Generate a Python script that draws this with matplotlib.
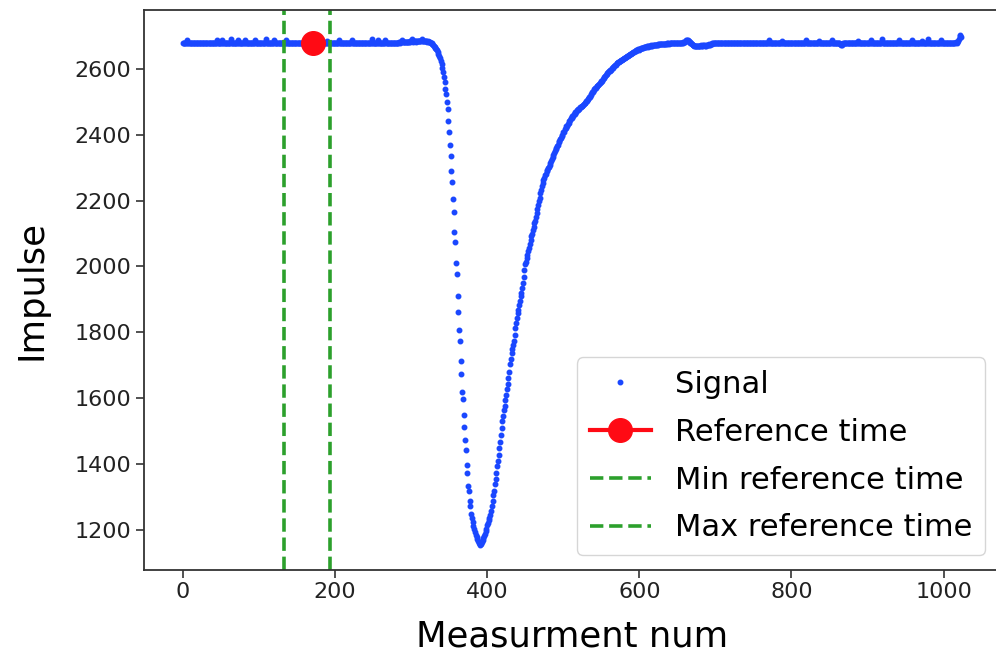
import numpy as np
import matplotlib
matplotlib.use("Agg")
import matplotlib.pyplot as plt

flat_start = [
    2677, 2678, 2677, 2679, 2678, 2688, 2678, 2677, 2679, 2678, 2678, 2677, 2679, 2678, 2677, 2678, 2679, 2678, 2677, 2678, 2679, 2677, 2678, 2678, 2679,
    2678, 2677, 2678, 2679, 2678, 2677, 2678, 2679, 2678, 2678, 2677, 2679, 2678, 2677, 2678, 2679, 2678, 2677, 2678, 2679, 2686, 2678, 2677, 2679, 2678,
    2677, 2687, 2678, 2679, 2678, 2677, 2678, 2679, 2678, 2677, 2678, 2679, 2678, 2689, 2678, 2677, 2679, 2678, 2678, 2677, 2679, 2678, 2677, 2688, 2678,
    2679, 2678, 2677, 2678, 2679, 2678, 2677, 2687, 2678, 2679, 2678, 2677, 2678, 2679, 2678, 2677, 2678, 2679, 2678, 2677, 2688, 2678, 2679, 2678, 2677,
    2678, 2679, 2678, 2677, 2678, 2679, 2678, 2677, 2678, 2689, 2678, 2677, 2679, 2678, 2678, 2677, 2679, 2678, 2677, 2678, 2687, 2678, 2679, 2677, 2678,
    2679, 2678, 2677, 2678, 2679, 2678, 2677, 2678, 2679, 2678, 2688, 2678, 2677, 2679, 2678, 2678, 2677, 2679, 2678, 2677, 2678, 2679, 2678, 2677, 2678,
    2679, 2678, 2677, 2678, 2679, 2678, 2677, 2678, 2679, 2678, 2683, 2678, 2677, 2679, 2678, 2678, 2677, 2679, 2678, 2677, 2678, 2679, 2678, 2677, 2678,
    2678, 2679, 2678, 2677, 2678, 2679, 2678, 2677, 2678, 2679, 2678, 2677, 2678, 2679, 2678, 2684, 2678, 2677, 2679, 2678, 2678, 2677, 2679, 2678, 2677,
    2678, 2679, 2678, 2677, 2678, 2687, 2678, 2677, 2679, 2678, 2678, 2677, 2679, 2678, 2677, 2678, 2679, 2678, 2677, 2678, 2679, 2678, 2688, 2678, 2677,
    2679, 2678, 2677, 2678, 2679, 2678, 2677, 2678, 2679, 2678, 2677, 2678, 2679, 2678, 2677, 2678, 2679, 2678, 2677, 2678, 2679, 2678, 2677, 2678, 2689,
    2678, 2677, 2679, 2678, 2678, 2677, 2679, 2688, 2678, 2677, 2678, 2679, 2678, 2677, 2678, 2679, 2687, 2678, 2677, 2679, 2678, 2678, 2677, 2679, 2678,
    2677, 2678, 2679, 2678, 2677, 2678, 2679, 2678, 2679, 2680, 2679, 2680, 2681, 2688, 2680, 2681, 2680, 2682, 2681, 2680, 2682, 2681, 2682, 2683, 2681,
]
bump = [
    2683, 2689, 2682, 2684, 2683, 2685, 2682, 2684, 2683, 2685, 2684, 2683, 2685, 2684, 2690, 2684, 2683, 2685, 2684, 2683, 2684, 2682, 2683, 2681, 2680,
]
drop = [
    2680, 2679, 2678, 2676, 2673, 2670, 2667, 2664, 2661, 2657,
    2652, 2646, 2640, 2632, 2624, 2614, 2603, 2590, 2576, 2560,
    2540, 2522, 2500, 2478, 2440, 2408, 2370, 2336, 2290, 2256,
    2205, 2165, 2104, 2074, 2010, 1977, 1911, 1862, 1808, 1774,
    1714, 1675, 1620, 1599, 1548, 1514, 1472, 1442, 1396, 1372,
    1333, 1318, 1287, 1272, 1250, 1238, 1225, 1212, 1202, 1193,
    1186, 1179, 1172, 1167, 1162, 1158, 1156, 1159,
]
rise = [
    1164, 1169, 1176, 1181, 1189, 1196, 1204, 1214, 1221, 1231,
    1238, 1247, 1258, 1273, 1289, 1306, 1320, 1339, 1355, 1373,
    1393, 1411, 1429, 1449, 1467, 1489, 1509, 1531, 1547, 1563,
    1577, 1596, 1611, 1629, 1644, 1661, 1679, 1703, 1719, 1736,
    1749, 1763, 1774, 1793, 1814, 1829, 1844, 1859, 1869, 1883,
    1894, 1909, 1919, 1935, 1949, 1969, 1989, 2006, 2014, 2027,
    2035, 2047, 2057, 2069, 2079, 2091, 2099, 2111, 2119, 2131,
    2139, 2151, 2161, 2175, 2185, 2199, 2209, 2223, 2231, 2245,
    2253, 2263, 2269, 2277, 2281, 2289, 2292, 2299, 2302, 2309,
    2313, 2321, 2325, 2333, 2337, 2345, 2349, 2357, 2360, 2367,
    2370, 2377, 2380, 2387, 2390, 2397, 2400, 2407, 2409, 2416,
    2419, 2425, 2427, 2433, 2435, 2441, 2443, 2449, 2450, 2456,
    2457, 2463, 2464, 2469, 2469, 2474, 2475, 2479, 2479, 2483,
    2483, 2487, 2487, 2491, 2492, 2497, 2497, 2501, 2502, 2507,
    2508, 2513, 2514, 2520, 2522, 2528, 2530, 2536, 2537, 2542,
    2543, 2547, 2547, 2552, 2553, 2558, 2559, 2563, 2564, 2569,
    2571, 2576, 2577, 2582, 2583, 2588, 2589, 2593, 2593, 2597,
    2597, 2601, 2601, 2606, 2607, 2611, 2612, 2616, 2616, 2620,
    2620, 2624, 2623, 2627, 2627, 2630, 2630, 2633, 2633, 2636,
    2636, 2639, 2639, 2642, 2642, 2645, 2645, 2649, 2648, 2651,
    2651, 2654, 2654, 2657, 2656, 2659, 2658, 2661, 2660, 2663,
    2662, 2664, 2663, 2666, 2665, 2667, 2666, 2668, 2667, 2669,
    2668, 2670, 2669, 2671, 2670, 2672, 2671, 2672, 2672, 2673,
    2672, 2674, 2673, 2674, 2674, 2675, 2674, 2676, 2675, 2676,
    2675, 2676, 2676, 2677, 2676, 2677, 2676, 2678, 2677, 2677,
    2678, 2677, 2678, 2678, 2677, 2678, 2679, 2678,
]
flat_end = [
    2678, 2677, 2678, 2679, 2678, 2679, 2680, 2679, 2681, 2682, 2684, 2686, 2687, 2686, 2684, 2681, 2679, 2677, 2675, 2673, 2671, 2670, 2669, 2668, 2669,
    2668, 2670, 2669, 2668, 2670, 2671, 2669, 2670, 2672, 2671, 2670, 2669, 2671, 2672, 2673, 2672, 2674, 2673, 2675, 2676, 2677, 2678, 2679, 2678, 2679,
    2678, 2679, 2677, 2678, 2679, 2678, 2677, 2678, 2679, 2678, 2677, 2679, 2678, 2678, 2677, 2679, 2678, 2677, 2678, 2679, 2678, 2677, 2679, 2678, 2678,
    2677, 2679, 2678, 2677, 2678, 2679, 2678, 2677, 2678, 2679, 2678, 2677, 2679, 2678, 2678, 2677, 2679, 2678, 2677, 2678, 2679, 2678, 2677, 2679, 2678,
    2679, 2678, 2677, 2678, 2679, 2678, 2678, 2677, 2679, 2678, 2677, 2678, 2679, 2678, 2677, 2679, 2678, 2678, 2677, 2687, 2678, 2679, 2677, 2678, 2679,
    2678, 2677, 2679, 2678, 2678, 2677, 2679, 2678, 2677, 2678, 2679, 2678, 2683, 2678, 2677, 2679, 2678, 2678, 2677, 2679, 2678, 2677, 2678, 2679, 2678,
    2677, 2678, 2679, 2678, 2677, 2679, 2678, 2678, 2677, 2679, 2678, 2677, 2678, 2679, 2678, 2677, 2678, 2679, 2688, 2678, 2677, 2679, 2678, 2678, 2677,
    2679, 2678, 2677, 2678, 2679, 2678, 2677, 2679, 2678, 2678, 2684, 2678, 2679, 2677, 2678, 2679, 2678, 2677, 2678, 2679, 2678, 2677, 2679, 2678, 2678,
    2677, 2679, 2688, 2678, 2677, 2678, 2679, 2678, 2677, 2679, 2678, 2678, 2677, 2676, 2673, 2671, 2674, 2677, 2679, 2678, 2677, 2678, 2679, 2678, 2677,
    2678, 2679, 2678, 2677, 2679, 2678, 2678, 2677, 2679, 2678, 2677, 2678, 2685, 2678, 2677, 2679, 2678, 2678, 2677, 2679, 2678, 2677, 2678, 2679, 2678,
    2677, 2678, 2679, 2678, 2688, 2677, 2679, 2678, 2678, 2677, 2679, 2678, 2677, 2678, 2679, 2678, 2677, 2678, 2689, 2678, 2677, 2679, 2678, 2678, 2677,
    2679, 2678, 2677, 2678, 2679, 2678, 2677, 2679, 2678, 2678, 2677, 2679, 2678, 2677, 2678, 2688, 2678, 2679, 2677, 2678, 2679, 2678, 2677, 2678, 2679,
    2678, 2677, 2679, 2678, 2678, 2677, 2679, 2687, 2678, 2677, 2678, 2679, 2678, 2677, 2678, 2679, 2678, 2677, 2679, 2678, 2678, 2684, 2677, 2679, 2678,
    2677, 2678, 2679, 2678, 2689, 2677, 2678, 2679, 2678, 2677, 2678, 2679, 2678, 2677, 2679, 2678, 2678, 2677, 2679, 2678, 2677, 2686, 2678, 2679, 2678,
    2677, 2678, 2679, 2678, 2677, 2679, 2678, 2678, 2677, 2679, 2678, 2677, 2678, 2679, 2678, 2680, 2679, 2681, 2684, 2690, 2698, 2701, 2697,
]

signal = flat_start + bump + drop + rise + flat_end
measurement = np.arange(len(signal))

ref_time = 171
ref_value = 2679
min_ref_time = 133
max_ref_time = 193

fig = plt.figure(figsize=(9.96, 6.59), dpi=100)
ax = fig.add_axes([144 / 996, 89 / 659, 856 / 996, 560 / 659])

ax.plot(measurement, signal, '.', color='#1a47ff', markersize=6.5, label='Signal')
ax.plot(ref_time, ref_value, 'o-', color='#ff0a14', markersize=17, lw=3, label='Reference time')
ax.axvline(min_ref_time, color='#2ca02c', ls='--', lw=2.6, label='Min reference time')
ax.axvline(max_ref_time, color='#2ca02c', ls='--', lw=2.6, label='Max reference time')

ax.set_xlabel('Measurment num', fontsize=25.5, labelpad=12)
ax.set_ylabel('Impulse', fontsize=25.5, labelpad=19)
ax.tick_params(labelsize=16, length=5.5, width=1.2, colors='#333333', labelcolor='#222222')
for s in ax.spines.values():
    s.set_linewidth(1.3)
    s.set_color('#333333')

ax.legend(loc='lower right', fontsize=22, labelspacing=0.62)

fig.savefig('out.png', dpi=100)
